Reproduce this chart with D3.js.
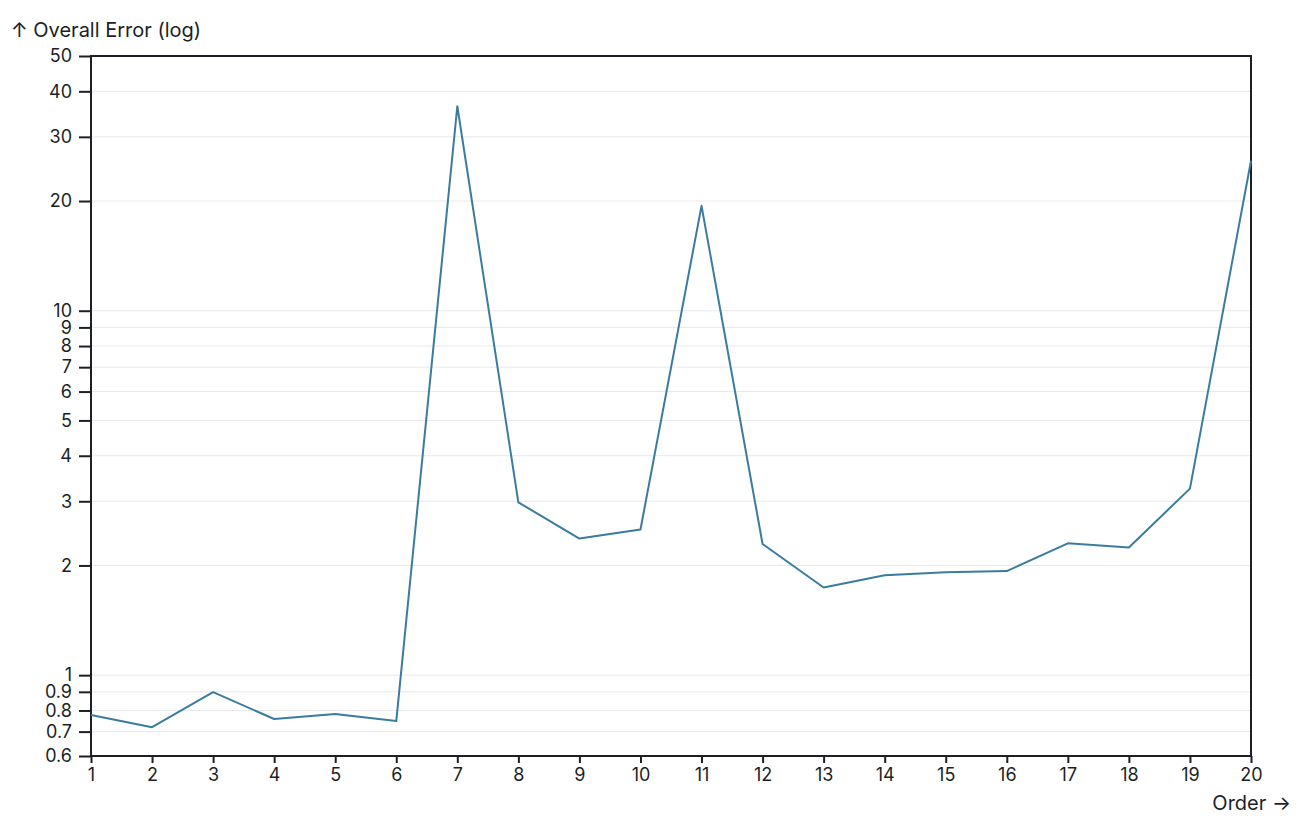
<!DOCTYPE html>
<html>
<head>
<meta charset="utf-8">
<script src="https://cdn.jsdelivr.net/npm/d3@7"></script>
<style>
  body { margin: 0; background: #fff; }
  svg { font-family: Inter, "Noto Sans", sans-serif; }
  .grid line { stroke: #e8e8e8; }
</style>
</head>
<body>
<div id="chart"></div>
<script>
// Data
var orders = [1, 2, 3, 4, 5, 6, 7, 8, 9, 10, 11, 12, 13, 14, 15, 16, 17, 18, 19, 20];
var errors = [0.777, 0.72, 0.898, 0.758, 0.782, 0.748, 36.4, 2.98, 2.37, 2.51,
              19.4, 2.29, 1.74, 1.88, 1.915, 1.93, 2.30, 2.24, 3.25, 25.8];
var yTicks = [0.6, 0.7, 0.8, 0.9, 1, 2, 3, 4, 5, 6, 7, 8, 9, 10, 20, 30, 40, 50];

var margin = {top: 56, right: 57, bottom: 74, left: 91},
    width = 1308 - margin.left - margin.right,
    height = 830 - margin.top - margin.bottom;

var ink = '#1c1f26';

var svg = d3.select('#chart').append('svg')
  .attr('width', 1308)
  .attr('height', 830);

var g = svg.append('g')
  .attr('transform', 'translate(' + margin.left + ',' + margin.top + ')');

var x = d3.scaleLinear().domain([1, 20]).range([0, width]);
var y = d3.scaleLog().domain([0.6, 50]).range([height, 0]);

// gridlines
g.append('g')
    .attr('class', 'grid')
  .selectAll('line')
  .data(yTicks)
  .enter().append('line')
    .attr('x1', 0)
    .attr('x2', width)
    .attr('y1', function(d) { return y(d); })
    .attr('y2', function(d) { return y(d); });

// frame
g.append('rect')
  .attr('width', width)
  .attr('height', height)
  .attr('fill', 'none')
  .attr('stroke', ink)
  .attr('stroke-width', 2);

var xAxis = d3.axisBottom(x).tickValues(orders).tickFormat(d3.format('d')).tickSize(7).tickPadding(5);
var yAxis = d3.axisLeft(y).tickValues(yTicks).tickFormat(d3.format('~g')).tickSize(12).tickPadding(7);

function styleAxis(s) {
  s.select('.domain').remove();
  s.attr('font-family', null).attr('font-size', null);
  s.selectAll('.tick line').attr('stroke', ink).attr('stroke-width', 2);
  s.selectAll('.tick text')
    .style('font-size', '18px')
    .style('fill', ink);
}

g.append('g')
    .attr('class', 'axis axis--x')
    .attr('transform', 'translate(0,' + height + ')')
    .call(xAxis)
    .call(styleAxis);

g.append('g')
    .attr('class', 'axis axis--y')
    .call(yAxis)
    .call(styleAxis);

var line = d3.line()
  .x(function(d, i) { return x(orders[i]); })
  .y(function(d) { return y(d); });

g.append('path')
  .datum(errors)
  .attr('fill', 'none')
  .attr('stroke', '#3a7c9f')
  .attr('stroke-width', 2)
  .attr('stroke-linejoin', 'round')
  .attr('d', line);

// axis titles
svg.append('text')
  .attr('x', 11)
  .attr('y', 37)
  .attr('fill', ink)
  .style('font-size', '20px')
  .text('↑ Overall Error (log)');

svg.append('text')
  .attr('x', 1291)
  .attr('y', 810)
  .attr('text-anchor', 'end')
  .attr('fill', ink)
  .style('font-size', '20px')
  .text('Order →');
</script>
</body>
</html>
